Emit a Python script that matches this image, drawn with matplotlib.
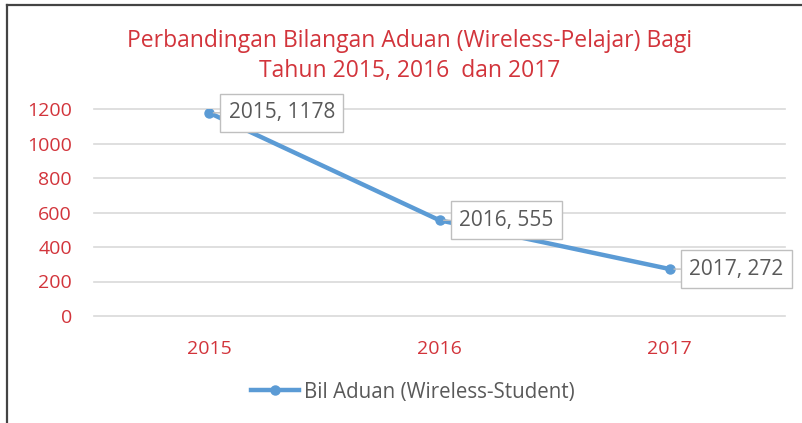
import matplotlib
matplotlib.use("Agg")
import matplotlib.pyplot as plt
from matplotlib.lines import Line2D

years = ["2015", "2016", "2017"]
values = [1178, 555, 272]
series_name = "Bil Aduan (Wireless-Student)"
title = "Perbandingan Bilangan Aduan (Wireless-Pelajar) Bagi\nTahun 2015, 2016  dan 2017"
yticks = [0, 200, 400, 600, 800, 1000, 1200]

RED = "#d2343b"
BLUE = "#5b9bd5"
GRAY = "#595959"
FONT = ["Open Sans", "DejaVu Sans"]
plt.rcParams["font.family"] = FONT

W, H = 802, 423
fig = plt.figure(figsize=(W / 100, H / 100), dpi=100)
ax = fig.add_axes([94 / W, 1 - 316 / H, (785 - 94) / W, (316 - 109) / H])

x = list(range(len(years)))
ax.plot(x, values, color=BLUE, lw=3.2, marker="o", ms=6.5, solid_capstyle="round", zorder=3)

ax.set_xlim(-0.5, len(years) - 0.5)
ax.set_ylim(0, 1200)
ax.set_yticks(yticks)
ax.set_xticks(x)
ax.set_xticklabels(years)
for s in ax.spines.values():
    s.set_visible(False)
ax.grid(axis="y", color="#d9d9d9", lw=1.2)
for gl in ax.get_ygridlines():
    gl.set_clip_on(False)
ax.set_axisbelow(True)
ax.tick_params(axis="both", length=0, labelcolor=RED, labelsize=14)
ax.tick_params(axis="y", pad=16)
ax.tick_params(axis="x", pad=17)

for xi, v, yr in zip(x, values, years):
    ax.annotate(f"{yr}, {v}", xy=(xi, v), xytext=(14, 0), textcoords="offset points",
                ha="left", va="center", fontsize=15, color=GRAY, zorder=5,
                bbox=dict(boxstyle="square,pad=0.4", fc="white", ec="#bfbfbf", lw=1),
                arrowprops=dict(arrowstyle="-", color="#bfbfbf", lw=1, shrinkA=0, shrinkB=3))

fig.text(410 / W, 1 - 56 / H, title, ha="center", va="center", color=RED,
         fontsize=16.5, linespacing=1.3)

handle = Line2D([], [], color=BLUE, lw=3.2, marker="o", ms=6.5)
fig.legend([handle], [series_name], loc="center", bbox_to_anchor=(413 / W, 1 - 392 / H),
           frameon=False, fontsize=14.8, labelcolor=GRAY, handlelength=2.3, handletextpad=0.25)

# outer frame (top and left border)
fig.add_artist(Line2D([7 / W, 1], [1 - 5 / H, 1 - 5 / H], transform=fig.transFigure, color="#444444", lw=1.6))
fig.add_artist(Line2D([7 / W, 7 / W], [0, 1 - 5 / H], transform=fig.transFigure, color="#444444", lw=1.6))

fig.savefig("out.png", dpi=100)
